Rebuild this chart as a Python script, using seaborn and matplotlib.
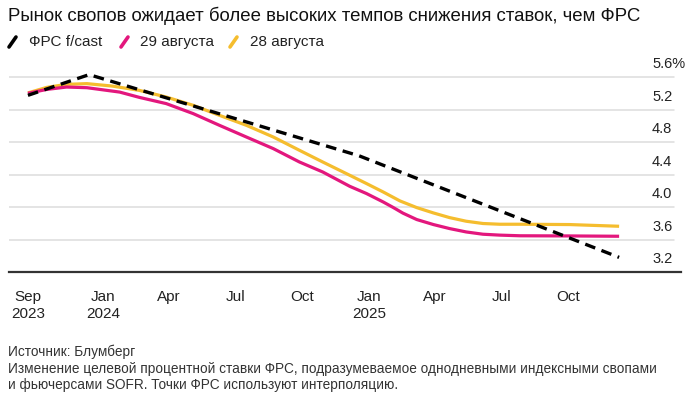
import pandas as pd
import numpy as np
import matplotlib
matplotlib.use("Agg")
import matplotlib.pyplot as plt
import matplotlib.transforms as mtransforms
from matplotlib.lines import Line2D
import seaborn as sns

# Data
fed_dates = ["2023-09-20", "2023-12-13", "2024-12-18", "2025-12-10"]
fed_values = [5.375, 5.63, 4.63, 3.38]

aug29_dates = ["2023-09-20", "2023-10-16", "2023-11-12", "2023-12-10", "2024-01-24",
               "2024-02-20", "2024-03-28", "2024-05-04", "2024-06-09", "2024-07-16",
               "2024-08-22", "2024-09-27", "2024-10-29", "2024-12-05", "2024-12-28",
               "2025-01-20", "2025-02-03", "2025-02-16", "2025-03-07", "2025-03-30",
               "2025-04-21", "2025-05-14", "2025-06-06", "2025-06-29", "2025-07-27",
               "2025-10-03", "2025-12-10"]
aug29_values = [5.40, 5.448, 5.477, 5.469, 5.415,
                5.350, 5.273, 5.150, 5.006, 4.862,
                4.719, 4.554, 4.431, 4.255, 4.166,
                4.062, 3.993, 3.925, 3.846, 3.784,
                3.735, 3.693, 3.665, 3.654, 3.646,
                3.644, 3.640]

aug28_dates = ["2023-09-20", "2023-10-16", "2023-11-12", "2023-12-10", "2024-01-14",
               "2024-02-20", "2024-03-28", "2024-05-04", "2024-06-09", "2024-07-16",
               "2024-08-22", "2024-09-27", "2024-10-29", "2024-12-05", "2024-12-28",
               "2025-01-20", "2025-02-12", "2025-03-07", "2025-03-30", "2025-04-21",
               "2025-05-14", "2025-06-06", "2025-06-29", "2025-07-27", "2025-10-03",
               "2025-12-10"]
aug28_values = [5.405, 5.473, 5.510, 5.519, 5.489,
                5.436, 5.354, 5.252, 5.129, 5.006,
                4.862, 4.698, 4.554, 4.391, 4.289,
                4.185, 4.075, 3.993, 3.927, 3.870,
                3.825, 3.797, 3.788, 3.788, 3.784,
                3.763]

tick_dates = ["2023-09-20", "2024-01-01", "2024-04-01", "2024-07-01", "2024-10-01",
              "2025-01-01", "2025-04-01", "2025-07-01", "2025-10-01"]
tick_labels = ["Sep\n2023", "Jan\n2024", "Apr", "Jul", "Oct", "Jan\n2025", "Apr", "Jul", "Oct"]
y_ticks = [3.2, 3.6, 4.0, 4.4, 4.8, 5.2, 5.6]
y_labels = ["3.2", "3.6", "4.0", "4.4", "4.8", "5.2", "5.6%"]

legend_names = ["ФРС f/cast", "29 августа", "28 августа"]

PINK = "#e3177d"
YELLOW = "#f5bd2e"

sns.set_style("white")
plt.rcParams["font.family"] = ["Liberation Sans", "DejaVu Sans"]

fig = plt.figure(figsize=(6.91, 3.98), dpi=100)
W, H = 691, 398
ax = fig.add_axes([9 / W, 1 - 272 / H, 672 / W, 212 / H])

sns.lineplot(x=pd.to_datetime(aug28_dates), y=aug28_values, ax=ax, color=YELLOW,
             linewidth=2.3, solid_capstyle="butt", solid_joinstyle="round")
sns.lineplot(x=pd.to_datetime(aug29_dates), y=aug29_values, ax=ax, color=PINK,
             linewidth=2.3, solid_capstyle="butt", solid_joinstyle="round")
sns.lineplot(x=pd.to_datetime(fed_dates), y=fed_values, ax=ax, color="black",
             linewidth=2.4, linestyle=(0, (3.2, 2.0)))

ax.set_xlim(pd.Timestamp("2023-08-25"), pd.Timestamp("2026-03-05"))
ax.set_ylim(3.2, 5.81)

# grid lines, labels sit above their line on the right
for v in y_ticks[1:]:
    ax.axhline(v, xmin=0, xmax=665 / 672, color="#dcdcdc", linewidth=1.1, zorder=0)
lab_tr = mtransforms.offset_copy(ax.get_yaxis_transform(), fig=fig, x=0, y=6, units="dots")
for v, lab in zip(y_ticks, y_labels):
    ax.text(643 / 672, v, lab, transform=lab_tr, ha="left", va="bottom",
            fontsize=10.5, color="#222222")

ax.set_yticks([])
ax.set_xticks(pd.to_datetime(tick_dates))
ax.set_xticklabels(tick_labels, fontsize=11, color="#222222", linespacing=1.25)
ax.tick_params(axis="x", direction="out", length=6, width=1.1, color="#333333", pad=7)
for s in ["top", "right", "left"]:
    ax.spines[s].set_visible(False)
ax.spines["bottom"].set_color("#333333")
ax.spines["bottom"].set_linewidth(1.6)
ax.set_xlabel("")
ax.set_ylabel("")

# title
fig.text(8 / W, 1 - 16 / H, "Рынок свопов ожидает более высоких темпов снижения ставок, чем ФРС",
         fontsize=13.4, va="center", ha="left", color="#111111")

# legend with slash markers
leg_colors = ["black", PINK, YELLOW]
slash_x = [9, 121, 230]
text_x = [29, 140, 250]
ly = 1 - 42 / H
for c, sx, tx, name in zip(leg_colors, slash_x, text_x, legend_names):
    fig.add_artist(Line2D([sx / W, (sx + 7) / W], [ly - 5 / H, ly + 5 / H],
                          color=c, linewidth=2.6, transform=fig.transFigure))
    fig.text(tx / W, ly, name, fontsize=11, va="center", ha="left", color="#222222")

# footer
foot = ["Источник: Блумберг",
        "Изменение целевой процентной ставки ФРС, подразумеваемое однодневными индексными свопами",
        "и фьючерсами SOFR. Точки ФРС используют интерполяцию."]
for i, line in enumerate(foot):
    fig.text(8 / W, 1 - (352 + 16.5 * i) / H, line, fontsize=9.8, va="center", ha="left",
             color="#333333")

fig.savefig("out.png", dpi=100)
